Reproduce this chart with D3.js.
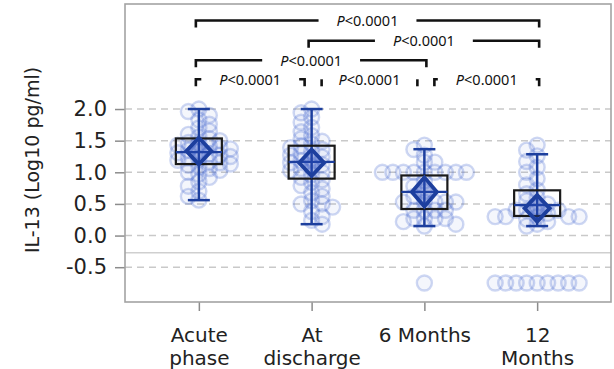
<!DOCTYPE html>
<html>
<head>
<meta charset="utf-8">
<title>IL-13 box plot</title>
<script src="https://d3js.org/d3.v7.min.js"></script>
<style>
  body { margin: 0; background: #fff; }
  .axis text { font-family: "DejaVu Sans", sans-serif; font-size: 21px; fill: #222; }
  .axis line { stroke: #8c8c8c; stroke-width: 1.5px; }
  .xlab text { font-size: 20px; }
  .ptext { font-family: "Noto Sans", sans-serif; font-size: 14.5px; fill: #111; }
</style>
</head>
<body>
<div id="chart"></div>
<script>
// categories and labels
const cats = ["Acute phase", "At discharge", "6 Months", "12 Months"];
const catLines = [["Acute", "phase"], ["At", "discharge"], ["6 Months"], ["12", "Months"]];
const yTicks = [-0.5, 0, 0.5, 1.0, 1.5, 2.0];
const refValue = -0.27;

// summary stats
const whiskLo = [0.56, 0.18, 0.15, 0.15];
const q1 = [1.13, 0.90, 0.42, 0.31];
const median = [1.32, 1.165, 0.69, 0.48];
const q3 = [1.535, 1.42, 0.95, 0.715];
const whiskHi = [2.0, 2.0, 1.365, 1.285];
const mean = [1.335, 1.15, 0.69, 0.43];
const ciHalf = [0.21, 0.21, 0.23, 0.21];

// individual observations (log10 pg/ml)
const acutePts = [0.56, 0.62, 0.70, 0.78, 0.85, 0.92, 0.97, 1.00, 1.03, 1.06, 1.09, 1.11,
  1.13, 1.15, 1.17, 1.19, 1.21, 1.23, 1.25, 1.27, 1.29, 1.31, 1.33, 1.35, 1.37, 1.39,
  1.41, 1.43, 1.45, 1.47, 1.50, 1.53, 1.56, 1.60, 1.65, 1.70, 1.76, 1.83, 1.90, 1.96, 2.00];
const dischargePts = [0.18, 0.24, 0.30, 0.38, 0.45, 0.50, 0.50, 0.55, 0.62, 0.68, 0.74,
  0.79, 0.84, 0.88, 0.92, 0.96, 1.00, 1.03, 1.06, 1.09, 1.12, 1.15, 1.18, 1.21, 1.24,
  1.27, 1.30, 1.33, 1.36, 1.39, 1.42, 1.45, 1.49, 1.53, 1.58, 1.64, 1.71, 1.79, 1.87,
  1.94, 2.00];
const sixMonthPts = [-0.75, 0.15, 0.18, 0.22, 0.27, 0.27, 0.27, 0.27, 0.40, 0.40, 0.40,
  0.40, 0.53, 0.53, 0.53, 0.53, 0.53, 0.62, 0.70, 0.78, 0.86, 1.00, 1.00, 1.00, 1.00,
  1.00, 1.00, 1.00, 1.00, 1.00, 1.16, 1.16, 1.27, 1.36, 1.43];
const twelveMonthPts = [-0.75, -0.75, -0.75, -0.75, -0.75, -0.75, -0.75, -0.75, -0.75,
  0.15, 0.18, 0.22, 0.26, 0.30, 0.30, 0.30, 0.30, 0.30, 0.35, 0.40, 0.40, 0.40, 0.45,
  0.50, 0.55, 0.60, 0.66, 0.72, 0.80, 0.90, 1.00, 1.08, 1.17, 1.26, 1.35, 1.43];
const groupPts = [acutePts, dischargePts, sixMonthPts, twelveMonthPts];

// significance brackets
const bracketPairs = [[0, 1], [1, 2], [2, 3], [0, 2], [1, 3], [0, 3]];
const bracketLevels = [2.47, 2.47, 2.47, 2.77, 3.08, 3.40];
const pLabels = ["<0.0001", "<0.0001", "<0.0001", "<0.0001", "<0.0001", "<0.0001"];

const W = 614, H = 369;
const L = 125, R = 611, T = 4, B = 302;

const svg = d3.select("#chart").append("svg")
    .attr("width", W).attr("height", H)
    .style("display", "block");

const x = d3.scalePoint().domain(cats).range([L, R]).padding(0.655);
const y = d3.scaleLinear().domain([-1.05, 3.66]).range([B, T]);

// gridlines
svg.append("g").selectAll("line")
   .data(yTicks).enter().append("line")
   .attr("x1", L).attr("x2", R)
   .attr("y1", d => y(d)).attr("y2", d => y(d))
   .attr("stroke", "#c9c9c9").attr("stroke-width", 1.5)
   .attr("stroke-dasharray", "7,5");

svg.append("line")
   .attr("x1", L).attr("x2", R)
   .attr("y1", y(refValue)).attr("y2", y(refValue))
   .attr("stroke", "#cfcfcf").attr("stroke-width", 1.5);

// jitter: points with (nearly) the same value are pushed side by side
function dodge(vals, cx, dx, dy) {
    const out = [];
    vals.map(v => ({v: v, py: y(v)}))
        .sort((a, b) => a.py - b.py)
        .forEach(p => {
            for (let k = 0; k < 12; k++) {
                const cands = k === 0 ? [0] : (out.length % 2 ? [-k * dx, k * dx] : [k * dx, -k * dx]);
                let hit = null;
                for (const c of cands) {
                    const clash = out.some(o => Math.abs(o.px - (cx + c)) < dx - 0.01 && Math.abs(o.py - p.py) < dy);
                    if (!clash) { hit = c; break; }
                }
                if (hit !== null) { out.push({v: p.v, py: p.py, px: cx + hit}); break; }
            }
        });
    return out;
}

const blue = "#1d3f9e";
const pts = svg.append("g");
groupPts.forEach((vals, i) => {
    pts.selectAll(null)
       .data(dodge(vals, x(cats[i]), 10.5, 6.5))
       .enter().append("circle")
       .attr("cx", d => d.px)
       .attr("cy", d => d.py)
       .attr("r", 7.5)
       .attr("fill", "rgba(70,105,210,0.06)")
       .attr("stroke", "rgba(70,105,210,0.26)")
       .attr("stroke-width", 2.4);
});

// boxes
const boxes = svg.append("g");
cats.forEach((c, i) => {
    const cx = x(c);
    const g = boxes.append("g");
    g.append("line")
     .attr("x1", cx).attr("x2", cx)
     .attr("y1", y(whiskLo[i])).attr("y2", y(whiskHi[i]))
     .attr("stroke", blue).attr("stroke-width", 2.5);
    [whiskLo[i], whiskHi[i]].forEach(v => {
        g.append("line")
         .attr("x1", cx - 11).attr("x2", cx + 11)
         .attr("y1", y(v)).attr("y2", y(v))
         .attr("stroke", blue).attr("stroke-width", 2.5);
    });
    g.append("rect")
     .attr("x", cx - 23).attr("width", 46)
     .attr("y", y(q3[i])).attr("height", y(q1[i]) - y(q3[i]))
     .attr("fill", "none").attr("stroke", "#1a1a1a").attr("stroke-width", 2.2);
    g.append("line")
     .attr("x1", cx - 23).attr("x2", cx + 23)
     .attr("y1", y(median[i])).attr("y2", y(median[i]))
     .attr("stroke", blue).attr("stroke-width", 2.2);
    const m = mean[i], hw = 12.5;
    g.append("path")
     .attr("d", "M" + (cx - hw) + "," + y(m) + "L" + cx + "," + y(m + ciHalf[i]) +
                "L" + (cx + hw) + "," + y(m) + "L" + cx + "," + y(m - ciHalf[i]) + "Z")
     .attr("fill", "rgba(40,75,185,0.35)")
     .attr("stroke", blue).attr("stroke-width", 3.8)
     .attr("stroke-linejoin", "miter");
});

// axes
const yAxis = d3.axisLeft(y).tickValues(yTicks)
    .tickFormat(d => d.toFixed(1)).tickSize(10).tickPadding(8);
svg.append("g").attr("class", "axis")
   .attr("transform", "translate(" + L + ",0)")
   .call(yAxis)
   .call(g => g.select(".domain").remove());

const xAxis = d3.axisBottom(x).tickSize(9).tickFormat("");
const xg = svg.append("g").attr("class", "axis xlab")
   .attr("transform", "translate(0," + B + ")")
   .call(xAxis)
   .call(g => g.select(".domain").remove());
xg.selectAll(".tick").append("text")
  .attr("text-anchor", "middle")
  .attr("y", 40)
  .each(function(d, i) {
      const t = d3.select(this);
      catLines[i].forEach((ln, j) => {
          t.append("tspan").attr("x", 0).attr("dy", j === 0 ? 0 : 23.4).text(ln);
      });
  });

svg.append("text")
   .attr("transform", "translate(39," + 160 + ") rotate(-90)")
   .attr("text-anchor", "middle")
   .style("font-family", "'DejaVu Sans', sans-serif")
   .style("font-size", "19px")
   .style("fill", "#222")
   .text("IL-13 (Log10 pg/ml)");

// brackets
const br = svg.append("g");
bracketPairs.forEach((pr, i) => {
    const adj = pr[1] - pr[0] === 1;
    const x1 = x(cats[pr[0]]) + (adj && pr[0] > 0 ? 10 : -3);
    const x2 = x(cats[pr[1]]) + (adj && pr[1] < 3 ? -7 : 2);
    const yy = y(bracketLevels[i]);
    const cx = (x1 + x2) / 2;
    const txt = br.append("text").attr("class", "ptext")
        .attr("x", cx).attr("y", yy).attr("dy", "0.36em")
        .attr("text-anchor", "middle");
    txt.append("tspan").style("font-style", "italic").text("P");
    txt.append("tspan").text(pLabels[i]);
    const tw = txt.node().getComputedTextLength();
    const gapL = cx - tw / 2 - 18, gapR = cx + tw / 2 + 18;
    const segs = [
        [[x1, yy + 7], [x1, yy], [Math.max(x1, gapL), yy]],
        [[Math.min(x2, gapR), yy], [x2, yy], [x2, yy + 7]]
    ];
    segs.forEach(s => {
        br.append("path")
          .attr("d", d3.line()(s))
          .attr("fill", "none").attr("stroke", "#111").attr("stroke-width", 2.6);
    });
});

// frame
svg.append("rect")
   .attr("x", L).attr("y", T).attr("width", R - L).attr("height", B - T)
   .attr("fill", "none").attr("stroke", "#a3a3a3").attr("stroke-width", 1.6);
</script>
</body>
</html>
